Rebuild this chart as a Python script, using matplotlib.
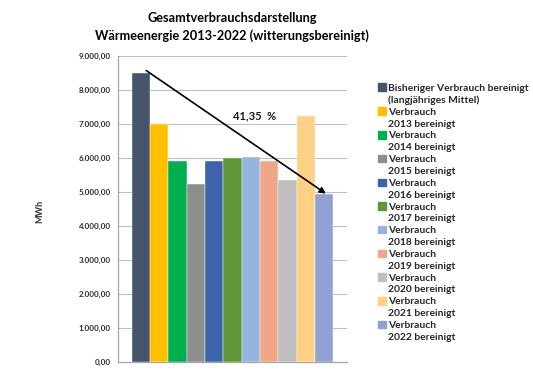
import matplotlib
matplotlib.use("Agg")
import matplotlib.pyplot as plt
from matplotlib.patches import Rectangle
from matplotlib.ticker import FuncFormatter

plt.rcParams['font.family'] = ['Lato', 'DejaVu Sans']

# data
series = ['Bisheriger Verbrauch bereinigt', 'Verbrauch', 'Verbrauch', 'Verbrauch',
          'Verbrauch', 'Verbrauch', 'Verbrauch', 'Verbrauch', 'Verbrauch',
          'Verbrauch', 'Verbrauch']
second_lines = ['(langjähriges Mittel)', '2013 bereinigt', '2014 bereinigt',
                '2015 bereinigt', '2016 bereinigt', '2017 bereinigt',
                '2018 bereinigt', '2019 bereinigt', '2020 bereinigt',
                '2021 bereinigt', '2022 bereinigt']
values = [8490, 7000, 5900, 5235, 5920, 5990, 6040, 5900, 5360, 7245, 4950]
colors = ['#44546A', '#FFC000', '#00B050', '#8E8E8E', '#3D63AA', '#609639',
          '#95B5DD', '#F0A787', '#BFBFBF', '#FFD184', '#8FA2D3']
reduction_label = '41,35  %'
yticks = list(range(0, 9001, 1000))

fig = plt.figure(figsize=(5.33, 3.78), dpi=100)
ax = fig.add_axes([0.2214, 0.0423, 0.4296, 0.8097])

x = list(range(len(values)))
ax.bar(x, values, width=1.0, color=colors, edgecolor='white', linewidth=0.3,
       zorder=3)

ax.set_xlim(-1.24, 11.25)
ax.set_ylim(0, 9000)
ax.set_yticks(yticks)
ax.yaxis.set_major_formatter(FuncFormatter(
    lambda v, p: f'{v:,.2f}'.replace(',', 'X').replace('.', ',').replace('X', '.')))
ax.set_xticks([])
ax.grid(axis='y', color='#BFBFBF', linewidth=0.8, zorder=0)
ax.tick_params(axis='y', length=0, labelsize=5.8, labelcolor='#2b2b2b', pad=5)
for lbl in ax.get_yticklabels():
    lbl.set_fontweight('bold')
for s in ['top', 'right']:
    ax.spines[s].set_visible(False)
for s in ['left', 'bottom']:
    ax.spines[s].set_color('#A6A6A6')
    ax.spines[s].set_linewidth(0.9)

# trend arrow from first to last bar
ax.annotate('', xy=(x[-1] + 0.1, values[-1]), xytext=(x[0] + 0.3, values[0] + 80),
            arrowprops=dict(arrowstyle='-|>', color='black', lw=1.2,
                            mutation_scale=9, shrinkA=0, shrinkB=0), zorder=5)
ax.text(6.2, 7244, reduction_label, ha='center', va='center', fontsize=8,
        fontweight='bold', color='#1a1a1a', zorder=6)

fig.text(0.436, 0.953, 'Gesamtverbrauchsdarstellung', ha='center', va='center',
         fontsize=9.2, fontweight='bold')
fig.text(0.436, 0.905, 'Wärmeenergie 2013-2022 (witterungsbereinigt)', ha='center',
         va='center', fontsize=9.2, fontweight='bold')
fig.text(0.075, 0.44, 'MWh', rotation=90, ha='center', va='center', fontsize=6.5,
         fontweight='bold', color='#333333')

# legend: colour square next to first line, second line without marker
handles, labels = [], []
for name, line2, c in zip(series, second_lines, colors):
    handles.append(Rectangle((0, 0), 1, 1, color=c))
    labels.append(name)
    handles.append(Rectangle((0, 0), 1, 1, alpha=0))
    labels.append(line2)
leg = fig.legend(handles, labels, loc='upper left', bbox_to_anchor=(0.702, 0.79),
                 frameon=False, handlelength=0.75, handleheight=0.75,
                 handletextpad=0.22, labelspacing=0.25, borderaxespad=0,
                 prop={'weight': 'bold', 'size': 7.35})
for t in leg.get_texts():
    t.set_color('#262626')

fig.savefig('out.png', dpi=100)
